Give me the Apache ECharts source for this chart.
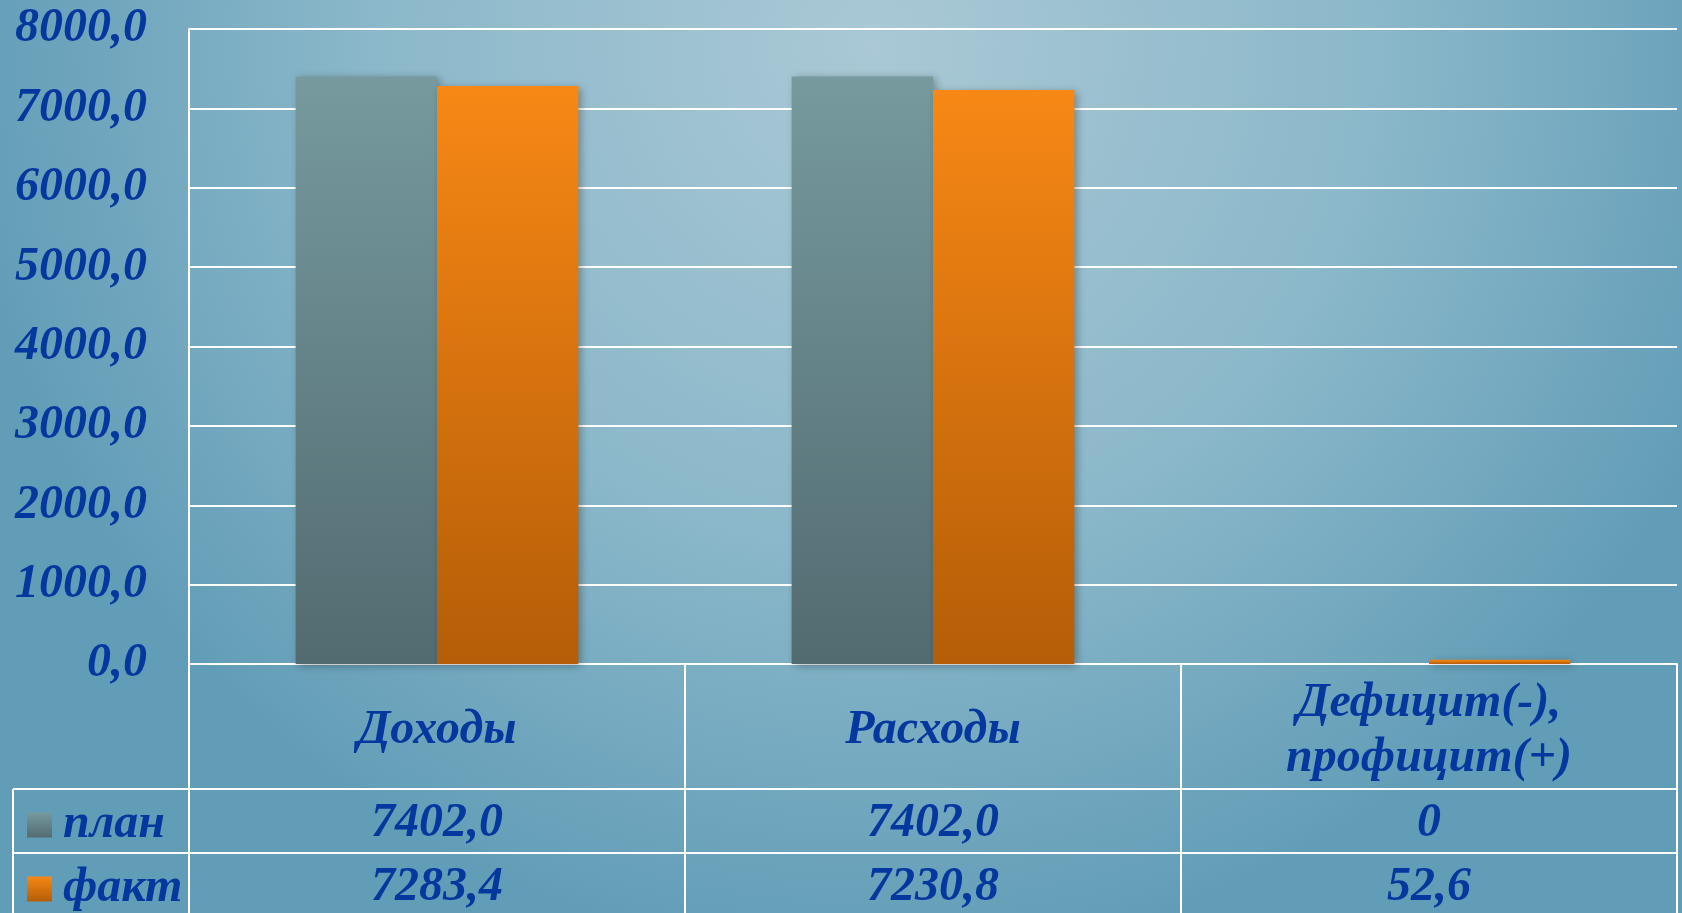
<!DOCTYPE html>
<html>
<head>
<meta charset="utf-8">
<script src="https://cdn.jsdelivr.net/npm/echarts@6/dist/echarts.min.js"></script>
<style>
html,body{margin:0;padding:0;width:1682px;height:913px;overflow:hidden;}
#c{width:1682px;height:913px;}
</style>
</head>
<body>
<div id="c"></div>
<script>
var categories = ['Доходы', 'Расходы', 'Дефицит(-),\nпрофицит(+)'];
var seriesNames = ['план', 'факт'];
var planValues = [7402.0, 7402.0, 0];
var factValues = [7283.4, 7230.8, 52.6];
var yTicks = [0, 1000, 2000, 3000, 4000, 5000, 6000, 7000, 8000];

var TXT = '#05389f';
var FONT = {fontFamily: '"Liberation Serif", "Times New Roman", serif', fontWeight: 'bold', fontStyle: 'italic', fontSize: 48, color: TXT};
function fmt(v) { return v === 0 ? '0' : v.toFixed(1).replace('.', ','); }

var W = 1682, H = 913;
var gridLeft = 189, gridRight = 5, gridTop = 29, gridBottom = 249;
var axisY = H - gridBottom;          // 664
var row1 = 125, row2 = 189;          // offsets of table rows
var legendLeft = 13;

var chart = echarts.init(document.getElementById('c'));
function tableAxis(values, offset) {
  return {
    type: 'category', position: 'bottom', offset: offset,
    data: categories,
    axisLine: {show: true, lineStyle: {color: '#ffffff', width: 2}},
    axisTick: {show: false},
    axisLabel: Object.assign({}, FONT, {
      margin: 35, verticalAlign: 'middle', interval: 0,
      formatter: function (v, i) { return fmt(values[i]); }
    })
  };
}
function legendRow(name, top) {
  return {
    left: 27, top: top, padding: 0,
    itemWidth: 25, itemHeight: 25, itemGap: 10, icon: 'rect',
    data: [name],
    textStyle: Object.assign({}, FONT, {lineHeight: 60, padding: [0, 0, 0, 6]}),
    selectedMode: false
  };
}
chart.setOption({
  backgroundColor: {
    type: 'radial', x: 0.52, y: 0.05, r: 1.0,
    colorStops: [
      {offset: 0, color: '#aac8d5'},
      {offset: 0.55, color: '#8bb8ca'},
      {offset: 1, color: '#629db7'}
    ]
  },
  animation: false,
  grid: {left: gridLeft, right: gridRight, top: gridTop, bottom: gridBottom, containLabel: false},
  legend: [legendRow(seriesNames[0], 795), legendRow(seriesNames[1], 859)],
  xAxis: [
    {
      type: 'category', data: categories,
      axisLine: {show: true, lineStyle: {color: '#ffffff', width: 2}},
      axisTick: {show: true, alignWithLabel: false, length: gridBottom, lineStyle: {color: '#ffffff', width: 2}},
      axisLabel: Object.assign({}, FONT, {margin: 67, verticalAlign: 'middle', lineHeight: 55, interval: 0})
    },
    tableAxis(planValues, row1),
    tableAxis(factValues, row2)
  ],
  yAxis: {
    type: 'value', min: 0, max: 8000, interval: 1000,
    axisLine: {show: true, lineStyle: {color: '#ffffff', width: 2}},
    axisTick: {show: false},
    splitLine: {lineStyle: {color: '#ffffff', width: 2}},
    axisLabel: Object.assign({}, FONT, {margin: 42, formatter: function (v) { return v.toFixed(1).replace('.', ','); }})
  },
  series: [
    {
      name: seriesNames[0], type: 'bar', data: planValues,
      barGap: '0%', barCategoryGap: '43%',
      itemStyle: {
        color: {type: 'linear', x: 0, y: 0, x2: 0, y2: 1, colorStops: [{offset: 0, color: '#769a9e'}, {offset: 1, color: '#526b71'}]},
        shadowBlur: 8, shadowColor: 'rgba(0,0,0,0.3)', shadowOffsetX: 3, shadowOffsetY: 2
      }
    },
    {
      name: seriesNames[1], type: 'bar', data: factValues,
      barGap: '0%', barCategoryGap: '43%',
      itemStyle: {
        color: {type: 'linear', x: 0, y: 0, x2: 0, y2: 1, colorStops: [{offset: 0, color: '#f78815'}, {offset: 1, color: '#b55d08'}]},
        shadowBlur: 8, shadowColor: 'rgba(0,0,0,0.3)', shadowOffsetX: 3, shadowOffsetY: 2
      }
    }
  ],
  graphic: [
    {type: 'line', shape: {x1: legendLeft, y1: axisY + row1, x2: gridLeft, y2: axisY + row1}, style: {stroke: '#ffffff', lineWidth: 2}},
    {type: 'line', shape: {x1: legendLeft, y1: axisY + row2, x2: gridLeft, y2: axisY + row2}, style: {stroke: '#ffffff', lineWidth: 2}},
    {type: 'line', shape: {x1: legendLeft, y1: axisY + row1, x2: legendLeft, y2: H}, style: {stroke: '#ffffff', lineWidth: 2}}
  ]
});
</script>
</body>
</html>
